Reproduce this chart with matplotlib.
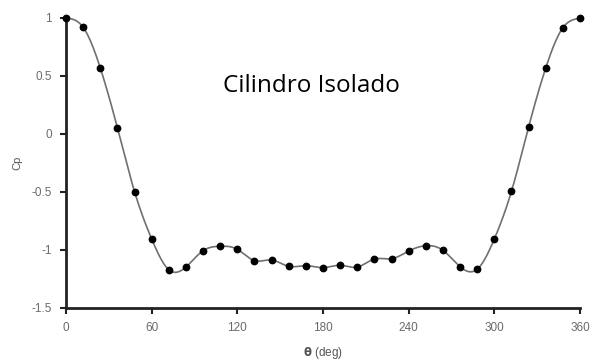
import numpy as np
import matplotlib.pyplot as plt

# Pressure coefficient around an isolated cylinder
theta = [0, 12, 24, 36, 48, 60, 72, 84, 96, 108, 120, 132, 144, 156, 168, 180,
         192, 204, 216, 228, 240, 252, 264, 276, 288, 300, 312, 324, 336, 348, 360]
cp = [1.0, 0.92, 0.57, 0.054, -0.497, -0.905, -1.17, -1.147, -1.006, -0.968,
      -0.994, -1.092, -1.086, -1.141, -1.135, -1.152, -1.132, -1.147, -1.078,
      -1.075, -1.009, -0.963, -1.003, -1.144, -1.166, -0.905, -0.494, 0.060,
      0.569, 0.916, 0.997]

xticks = [0, 60, 120, 180, 240, 300, 360]
yticks = [-1.5, -1, -0.5, 0, 0.5, 1]
yticklabels = ['-1.5', '-1', '-0.5', '0', '0.5', '1']


def smooth(x, y, n=600):
    # natural cubic spline, only used to draw the connecting curve
    x = np.asarray(x, float)
    y = np.asarray(y, float)
    h = np.diff(x)
    m = len(x)
    A = np.zeros((m, m))
    b = np.zeros(m)
    A[0, 0] = A[-1, -1] = 1.0
    for i in range(1, m - 1):
        A[i, i - 1] = h[i - 1]
        A[i, i] = 2 * (h[i - 1] + h[i])
        A[i, i + 1] = h[i]
        b[i] = 3 * ((y[i + 1] - y[i]) / h[i] - (y[i] - y[i - 1]) / h[i - 1])
    c = np.linalg.solve(A, b)
    xs = np.linspace(x[0], x[-1], n)
    idx = np.clip(np.searchsorted(x, xs) - 1, 0, m - 2)
    dx = xs - x[idx]
    bb = (y[1:] - y[:-1]) / h - h * (2 * c[:-1] + c[1:]) / 3
    d = (c[1:] - c[:-1]) / (3 * h)
    ys = y[idx] + bb[idx] * dx + c[idx] * dx ** 2 + d[idx] * dx ** 3
    return xs, ys


fig = plt.figure(figsize=(5.93, 3.62), dpi=100)
ax = fig.add_axes([66 / 593, 1 - 308 / 362, 514 / 593, 290 / 362])

xs, ys = smooth(theta, cp)
ax.plot(xs, ys, color='#707070', lw=1.2, zorder=2)
ax.plot(theta, cp, 'o', color='black', ms=4.6, zorder=3, clip_on=False)

ax.set_xlim(0, 360)
ax.set_ylim(-1.5, 1)
ax.set_xticks(xticks)
ax.set_yticks(yticks)
ax.set_yticklabels(yticklabels)

for s in ['top', 'right']:
    ax.spines[s].set_visible(False)
for s in ['left', 'bottom']:
    ax.spines[s].set_linewidth(2.0)
    ax.spines[s].set_color('#222222')
ax.tick_params(direction='out', length=4, width=1.5, color='#222222',
               labelsize=8.5, labelcolor='#6a6a6a', pad=6,
               labelfontfamily='Liberation Sans')

ax.set_ylabel('Cp', fontsize=8, color='#555555', family='Liberation Sans',
              labelpad=7)
ax.set_xlabel(r'$\mathbf{\theta}$ (deg)', fontsize=8.5, color='#555555',
              family='Liberation Sans', labelpad=8)

ax.text(172, 0.41, 'Cilindro Isolado', fontsize=17.5, family='Open Sans',
        ha='center', va='center', color='black')

fig.savefig('out.png', dpi=100)
